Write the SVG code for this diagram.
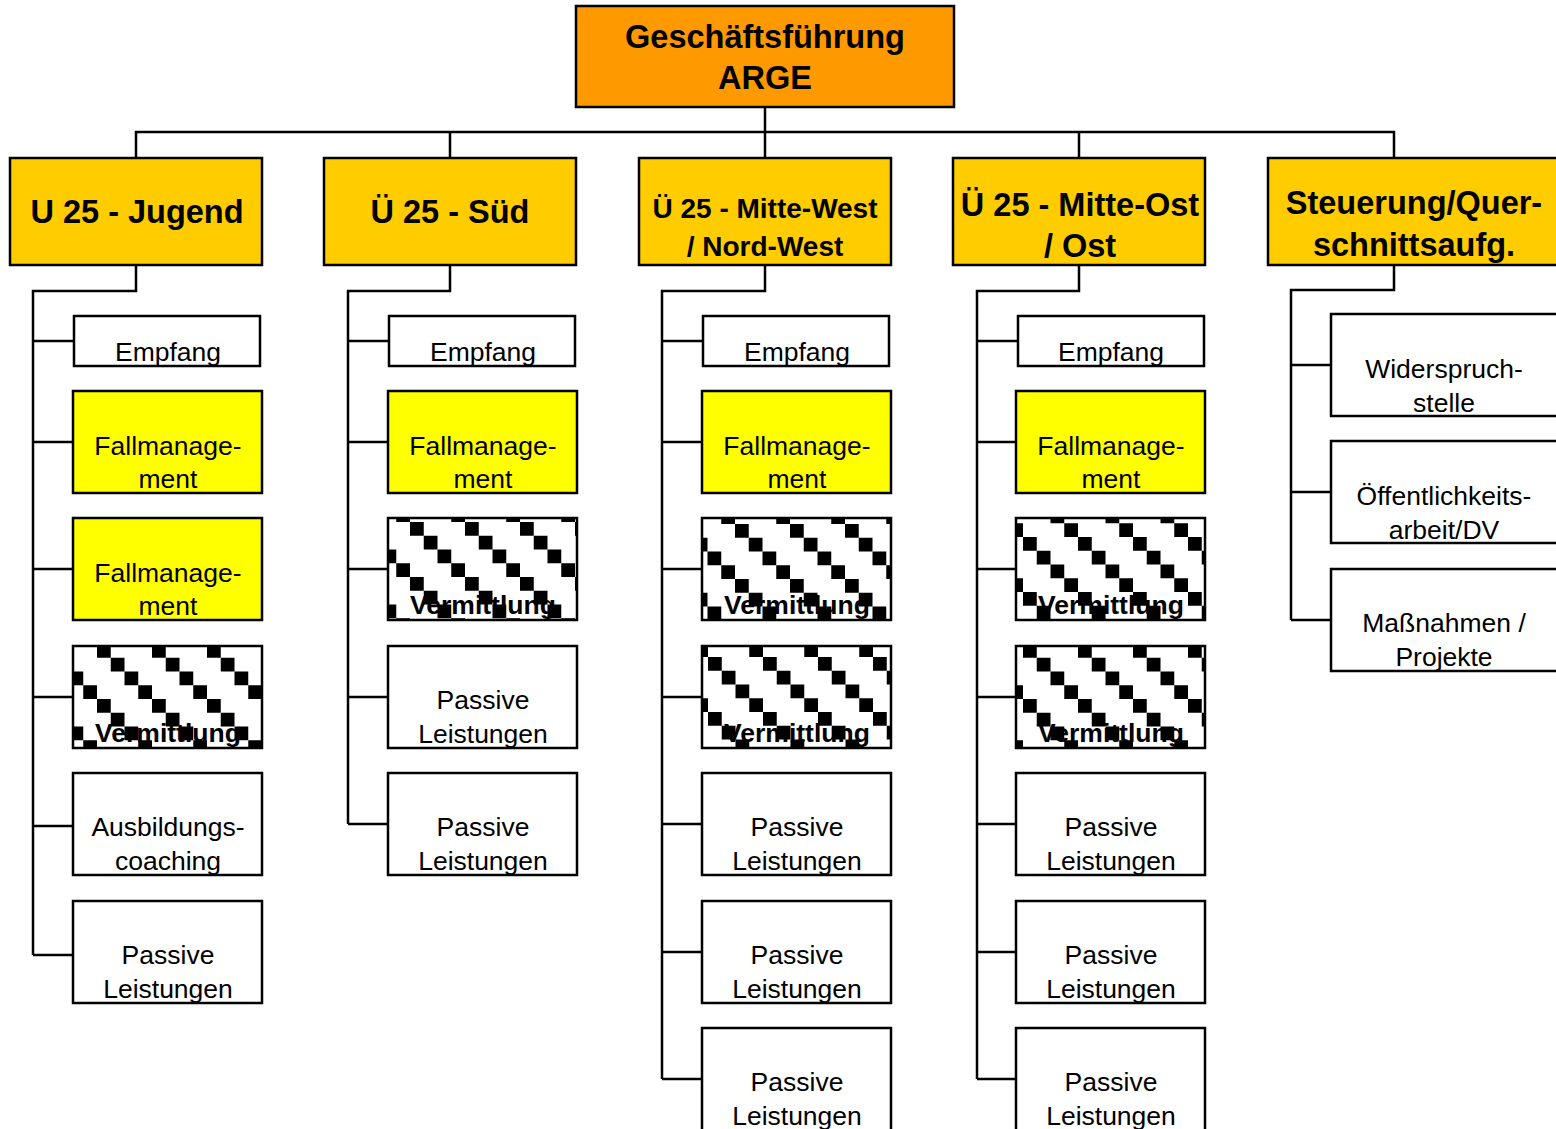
<svg xmlns="http://www.w3.org/2000/svg" width="1556" height="1129" viewBox="0 0 1556 1129">
<style>
.b{stroke:#000;stroke-width:2.5}
.top{fill:#FF9900}
.hd{fill:#FFCC00}
.fm{fill:#FFFF00}
.wh{fill:#FFFFFF}
.ln{fill:none;stroke:#000;stroke-width:2.5}
text{font-family:"Liberation Sans",Arial,sans-serif;fill:#000;text-anchor:middle}
.tb{font-weight:bold;font-size:32.5px}
.tm{font-weight:bold;font-size:28px}
.tr{font-size:26.5px}
.tv{font-weight:bold;font-size:26.5px}
</style>
<defs>
<g id="cells">
<rect x="0" y="0" width="13.75" height="13.75" fill="#000"/>
<rect x="13.75" y="13.75" width="13.75" height="13.75" fill="#000"/>
<rect x="27.5" y="27.5" width="13.75" height="13.75" fill="#000"/>
<rect x="41.25" y="41.25" width="13.75" height="13.75" fill="#000"/>
</g>
<pattern id="p1" patternUnits="userSpaceOnUse" x="97" y="644" width="55" height="55"><rect width="55" height="55" fill="#fff"/><use href="#cells"/></pattern>
<pattern id="p2" patternUnits="userSpaceOnUse" x="410" y="522" width="55" height="55"><rect width="55" height="55" fill="#fff"/><use href="#cells"/></pattern>
<pattern id="p3" patternUnits="userSpaceOnUse" x="735" y="524" width="55" height="55"><rect width="55" height="55" fill="#fff"/><use href="#cells"/></pattern>
<pattern id="p4" patternUnits="userSpaceOnUse" x="708" y="657" width="55" height="55"><rect width="55" height="55" fill="#fff"/><use href="#cells"/></pattern>
<pattern id="p5" patternUnits="userSpaceOnUse" x="1023" y="537" width="55" height="55"><rect width="55" height="55" fill="#fff"/><use href="#cells"/></pattern>
<pattern id="p6" patternUnits="userSpaceOnUse" x="1023" y="644" width="55" height="55"><rect width="55" height="55" fill="#fff"/><use href="#cells"/></pattern>
</defs>

<g id="connectors">
<path class="ln" d="M765,107 V158 M136,158 V132 H1394 V158 M450,132 V158 M1079,132 V158"/>
<path class="ln" d="M136,265 V291 H33 V955 M33,341 H74 M33,442 H73 M33,569 H73 M33,697 H73 M33,826 H73 M33,955 H73"/>
<path class="ln" d="M450,265 V291 H348 V824 M348,341 H389 M348,442 H388 M348,569 H388 M348,697 H388 M348,824 H388"/>
<path class="ln" d="M765,265 V291 H662 V1079 M662,341 H703 M662,442 H702 M662,569 H702 M662,697 H702 M662,824 H702 M662,952 H702 M662,1079 H702"/>
<path class="ln" d="M1079,265 V291 H977 V1079 M977,341 H1018 M977,442 H1016 M977,569 H1016 M977,697 H1016 M977,824 H1016 M977,952 H1016 M977,1079 H1016"/>
<path class="ln" d="M1394,265 V290 H1291 V620 M1291,365 H1331 M1291,492 H1331 M1291,620 H1331"/>
</g>

<g id="n-gf"><rect class="b top" x="576" y="6" width="378" height="101"/><text class="tb" x="765" y="48">Geschäftsführung</text><text class="tb" x="765" y="89">ARGE</text></g>

<g id="n-u25"><rect class="b hd" x="10" y="158" width="252" height="107"/><text class="tb" x="137" y="223">U 25 - Jugend</text></g>
<g id="n-sued"><rect class="b hd" x="324" y="158" width="252" height="107"/><text class="tb" x="450" y="223">Ü 25 - Süd</text></g>
<g id="n-mw"><rect class="b hd" x="639" y="158" width="252" height="107"/><text class="tm" x="765" y="218">Ü 25 - Mitte-West</text><text class="tm" x="765" y="256">/ Nord-West</text></g>
<g id="n-mo"><rect class="b hd" x="953" y="158" width="252" height="107"/><text class="tb" x="1080" y="216">Ü 25 - Mitte-Ost</text><text class="tb" x="1080" y="257">/ Ost</text></g>
<g id="n-st"><rect class="b hd" x="1268" y="158" width="300" height="107"/><text class="tb" x="1414" y="214">Steuerung/Quer-</text><text class="tb" x="1414" y="256">schnittsaufg.</text></g>

<!-- Column 1 -->
<g id="c1-empfang"><rect class="b wh" x="74" y="316" width="186" height="50"/><text class="tr" x="168" y="361">Empfang</text></g>
<g id="c1-fm1"><rect class="b fm" x="73" y="391" width="189" height="102"/><text class="tr" x="168" y="455">Fallmanage-</text><text class="tr" x="168" y="488">ment</text></g>
<g id="c1-fm2"><rect class="b fm" x="73" y="518" width="189" height="102"/><text class="tr" x="168" y="582">Fallmanage-</text><text class="tr" x="168" y="615">ment</text></g>
<g id="c1-verm"><rect class="b" fill="url(#p1)" x="73" y="646" width="189" height="102"/><text class="tv" x="168" y="742">Vermittlung</text></g>
<g id="c1-ausb"><rect class="b wh" x="73" y="773" width="189" height="102"/><text class="tr" x="168" y="836">Ausbildungs-</text><text class="tr" x="168" y="870">coaching</text></g>
<g id="c1-pass"><rect class="b wh" x="73" y="901" width="189" height="102"/><text class="tr" x="168" y="964">Passive</text><text class="tr" x="168" y="998">Leistungen</text></g>

<!-- Column 2 -->
<g id="c2-empfang"><rect class="b wh" x="389" y="316" width="186" height="50"/><text class="tr" x="483" y="361">Empfang</text></g>
<g id="c2-fm"><rect class="b fm" x="388" y="391" width="189" height="102"/><text class="tr" x="483" y="455">Fallmanage-</text><text class="tr" x="483" y="488">ment</text></g>
<g id="c2-verm"><rect class="b" fill="url(#p2)" x="388" y="518" width="189" height="102"/><text class="tv" x="483" y="614">Vermittlung</text></g>
<g id="c2-pass1"><rect class="b wh" x="388" y="646" width="189" height="102"/><text class="tr" x="483" y="709">Passive</text><text class="tr" x="483" y="743">Leistungen</text></g>
<g id="c2-pass2"><rect class="b wh" x="388" y="773" width="189" height="102"/><text class="tr" x="483" y="836">Passive</text><text class="tr" x="483" y="870">Leistungen</text></g>

<!-- Column 3 -->
<g id="c3-empfang"><rect class="b wh" x="703" y="316" width="186" height="50"/><text class="tr" x="797" y="361">Empfang</text></g>
<g id="c3-fm"><rect class="b fm" x="702" y="391" width="189" height="102"/><text class="tr" x="797" y="455">Fallmanage-</text><text class="tr" x="797" y="488">ment</text></g>
<g id="c3-verm1"><rect class="b" fill="url(#p3)" x="702" y="518" width="189" height="102"/><text class="tv" x="797" y="614">Vermittlung</text></g>
<g id="c3-verm2"><rect class="b" fill="url(#p4)" x="702" y="646" width="189" height="102"/><text class="tv" x="797" y="742">Vermittlung</text></g>
<g id="c3-pass1"><rect class="b wh" x="702" y="773" width="189" height="102"/><text class="tr" x="797" y="836">Passive</text><text class="tr" x="797" y="870">Leistungen</text></g>
<g id="c3-pass2"><rect class="b wh" x="702" y="901" width="189" height="102"/><text class="tr" x="797" y="964">Passive</text><text class="tr" x="797" y="998">Leistungen</text></g>
<g id="c3-pass3"><rect class="b wh" x="702" y="1028" width="189" height="110"/><text class="tr" x="797" y="1091">Passive</text><text class="tr" x="797" y="1125">Leistungen</text></g>

<!-- Column 4 -->
<g id="c4-empfang"><rect class="b wh" x="1018" y="316" width="186" height="50"/><text class="tr" x="1111" y="361">Empfang</text></g>
<g id="c4-fm"><rect class="b fm" x="1016" y="391" width="189" height="102"/><text class="tr" x="1111" y="455">Fallmanage-</text><text class="tr" x="1111" y="488">ment</text></g>
<g id="c4-verm1"><rect class="b" fill="url(#p5)" x="1016" y="518" width="189" height="102"/><text class="tv" x="1111" y="614">Vermittlung</text></g>
<g id="c4-verm2"><rect class="b" fill="url(#p6)" x="1016" y="646" width="189" height="102"/><text class="tv" x="1111" y="742">Vermittlung</text></g>
<g id="c4-pass1"><rect class="b wh" x="1016" y="773" width="189" height="102"/><text class="tr" x="1111" y="836">Passive</text><text class="tr" x="1111" y="870">Leistungen</text></g>
<g id="c4-pass2"><rect class="b wh" x="1016" y="901" width="189" height="102"/><text class="tr" x="1111" y="964">Passive</text><text class="tr" x="1111" y="998">Leistungen</text></g>
<g id="c4-pass3"><rect class="b wh" x="1016" y="1028" width="189" height="110"/><text class="tr" x="1111" y="1091">Passive</text><text class="tr" x="1111" y="1125">Leistungen</text></g>

<!-- Column 5 -->
<g id="c5-wid"><rect class="b wh" x="1331" y="314" width="240" height="102"/><text class="tr" x="1444" y="378">Widerspruch-</text><text class="tr" x="1444" y="412">stelle</text></g>
<g id="c5-oeff"><rect class="b wh" x="1331" y="441" width="240" height="102"/><text class="tr" x="1444" y="505">Öffentlichkeits-</text><text class="tr" x="1444" y="539">arbeit/DV</text></g>
<g id="c5-mass"><rect class="b wh" x="1331" y="569" width="240" height="102"/><text class="tr" x="1444" y="632">Maßnahmen /</text><text class="tr" x="1444" y="666">Projekte</text></g>
</svg>
